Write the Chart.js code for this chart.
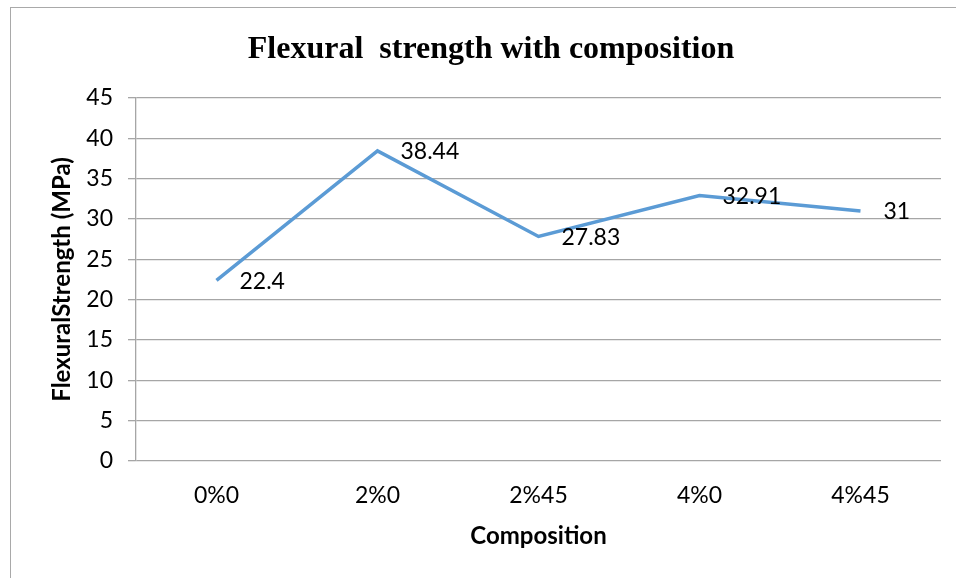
<!DOCTYPE html>
<html>
<head>
<meta charset="utf-8">
<script src="https://cdn.jsdelivr.net/npm/chart.js@4.4.1/dist/chart.umd.min.js"></script>
<style>
  html, body { margin: 0; padding: 0; background: #fff; }
  #wrap { position: relative; width: 956px; height: 578px; overflow: hidden; }
  #frame { position: absolute; left: 10px; top: 7px; width: 980px; height: 600px; border: 1px solid #a9a9a9; box-sizing: border-box; }
  canvas { position: absolute; left: 0; top: 0; }
</style>
</head>
<body>
<div id="wrap">
  <div id="frame"></div>
  <canvas id="c" width="956" height="578"></canvas>
</div>
<script>
const categories = ["0%0", "2%0", "2%45", "4%0", "4%45"];
const flexuralStrength = [22.4, 38.44, 27.83, 32.91, 31];
const yTicks = [0, 5, 10, 15, 20, 25, 30, 35, 40, 45];

const chartTitle = "Flexural  strength with composition";
const xTitle = "Composition";
const yTitle = "FlexuralStrength (MPa)";

const sans = "Lato, 'Noto Sans', sans-serif";

// Title drawn centred over the plot
const titlePlugin = {
  id: 'titleText',
  afterDraw(chart) {
    const ctx = chart.ctx;
    ctx.save();
    ctx.font = "bold 32px 'Liberation Serif', 'Times New Roman', serif";
    ctx.fillStyle = '#000';
    ctx.textAlign = 'center';
    ctx.textBaseline = 'middle';
    ctx.fillText(chartTitle, 491, 50);
    ctx.restore();
  }
};

// Value labels to the right of each point
const valueLabels = {
  id: 'valueLabels',
  afterDatasetsDraw(chart) {
    const ctx = chart.ctx;
    const meta = chart.getDatasetMeta(0);
    ctx.save();
    ctx.font = "23px " + sans;
    ctx.fillStyle = '#000';
    ctx.textAlign = 'left';
    ctx.textBaseline = 'middle';
    meta.data.forEach((pt, i) => {
      ctx.fillText(String(flexuralStrength[i]), pt.x + 23, pt.y + 1);
    });
    ctx.restore();
  }
};

new Chart(document.getElementById('c'), {
  type: 'line',
  data: {
    labels: categories,
    datasets: [{
      data: flexuralStrength,
      borderColor: '#5b9bd5',
      borderWidth: 3.5,
      pointRadius: 0,
      pointHoverRadius: 0,
      tension: 0,
      fill: false
    }]
  },
  options: {
    responsive: false,
    animation: false,
    devicePixelRatio: 1,
    layout: { padding: { top: 98, right: 15, bottom: 0, left: 0 } },
    plugins: {
      legend: { display: false },
      title: { display: false },
      tooltip: { enabled: false }
    },
    scales: {
      x: {
        type: 'category',
        offset: true,
        grid: { display: false, drawTicks: false },
        border: { display: false },
        ticks: { color: '#000', font: { family: sans, size: 23 }, padding: 21, maxRotation: 0 },
        title: { display: true, text: xTitle, color: '#000', font: { family: sans, size: 24, weight: 'bold' }, padding: { top: 0, bottom: 27 } },
        afterFit(scale) { scale.height = 117; }
      },
      y: {
        min: 0,
        max: 45,
        afterBuildTicks(scale) { scale.ticks = yTicks.map(v => ({ value: v })); },
        grid: { color: '#a6a6a6', lineWidth: 1.3, drawTicks: true, tickLength: 8 },
        border: { display: true, color: '#a6a6a6', width: 1.3 },
        ticks: { color: '#000', font: { family: sans, size: 23 }, padding: 15 },
        title: { display: true, text: yTitle, color: '#000', font: { family: sans, size: 24, weight: 'bold' }, padding: { top: 48, bottom: 0 } },
        afterFit(scale) { scale.width = 136; }
      }
    }
  },
  plugins: [titlePlugin, valueLabels]
});
</script>
</body>
</html>
